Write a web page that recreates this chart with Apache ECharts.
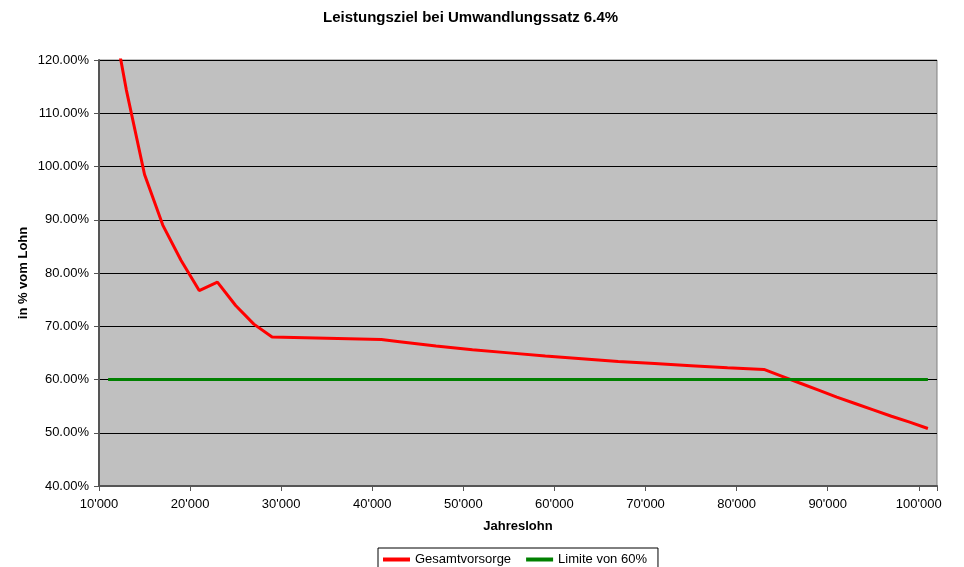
<!DOCTYPE html>
<html>
<head>
<meta charset="utf-8">
<script src="https://cdn.jsdelivr.net/npm/echarts@6/dist/echarts.min.js"></script>
<style>
	html,body{margin:0;padding:0;background:#fff;}
	#chart{width:964px;height:567px;}
</style>
</head>
<body>
<div id="chart"></div>
<script>
	// Jahreslohn (CHF) und Leistungsziel in % vom Lohn
	var lohn = [11000, 13000, 15000, 17000, 19000, 21000, 23000, 25000, 27000, 29000,
		41000, 43000, 47000, 51000, 55000, 59000, 63000, 67000, 71000, 75000, 79000, 83000,
		85000, 87000, 89000, 91000, 93000, 95000, 97000, 99000, 101000];
	var gesamt = [133, 114.4, 98.5, 89.0, 82.4, 76.7, 78.3, 73.9, 70.4, 68.0,
		67.5, 67.1, 66.3, 65.6, 65.0, 64.4, 63.9, 63.4, 63.0, 62.6, 62.2, 61.9,
		60.6, 59.3, 58.0, 56.7, 55.5, 54.3, 53.1, 52.0, 50.8];
	var limiteLohn = [11000, 101000];
	var limite = [60, 60];

	var font = 'Liberation Sans, Arial, sans-serif';

	function pairs(xs, ys){
		var out = [];
		for(var i = 0; i < xs.length; i++) out.push([xs[i], ys[i]]);
		return out;
	}

	function fmtLohn(v){
		if(v % 10000 !== 0) return '';
		return String(v).replace(/\B(?=(\d{3})+(?!\d))/g, "'");
	}

	var chart = echarts.init(document.getElementById('chart'));

	chart.setOption({
		animation: false,
		backgroundColor: '#fff',
		textStyle: {fontFamily: font},
		title: {
			text: 'Leistungsziel bei Umwandlungssatz 6.4%',
			left: 318,
			top: 5,
			textStyle: {fontSize: 15, fontWeight: 'bold', color: '#000', fontFamily: font}
		},
		legend: {
			left: 378,
			top: 548,
			padding: [5, 11, 10, 5],
			borderColor: '#000',
			borderWidth: 1,
			itemWidth: 27,
			itemHeight: 4,
			itemGap: 15,
			icon: 'rect',
			textStyle: {fontSize: 13, color: '#000', fontFamily: font},
			data: ['Gesamtvorsorge', 'Limite von 60%']
		},
		grid: {
			left: 99,
			right: 27,
			top: 60,
			bottom: 81,
			show: true,
			backgroundColor: '#c0c0c0',
			borderColor: '#808080',
			borderWidth: 1
		},
		xAxis: {
			type: 'value',
			min: 10000,
			max: 102000,
			interval: 10000,
			name: 'Jahreslohn',
			nameLocation: 'middle',
			nameGap: 34,
			nameTextStyle: {fontSize: 13, fontWeight: 'bold', color: '#000'},
			axisLine: {lineStyle: {color: '#555', width: 2}},
			axisTick: {show: true, length: 5, lineStyle: {color: '#555'}},
			axisLabel: {fontSize: 13, color: '#000', margin: 12, formatter: fmtLohn},
			splitLine: {show: false}
		},
		yAxis: {
			type: 'value',
			min: 40,
			max: 120,
			interval: 10,
			name: 'in % vom Lohn',
			nameLocation: 'middle',
			nameGap: 69,
			nameMoveOverlap: false,
			nameTextStyle: {fontSize: 13, fontWeight: 'bold', color: '#000'},
			axisLine: {show: true, lineStyle: {color: '#555', width: 2}},
			axisTick: {show: true, length: 5, lineStyle: {color: '#555'}},
			axisLabel: {fontSize: 13, color: '#000', margin: 10, formatter: function(v){ return v.toFixed(2) + '%'; }},
			splitLine: {show: true, lineStyle: {color: '#000', width: 1}}
		},
		series: [
			{
				name: 'Gesamtvorsorge',
				type: 'line',
				data: pairs(lohn, gesamt),
				showSymbol: false,
				clip: true,
				itemStyle: {color: '#ff0000'},
				lineStyle: {color: '#ff0000', width: 3}
			},
			{
				name: 'Limite von 60%',
				type: 'line',
				data: pairs(limiteLohn, limite),
				showSymbol: false,
				itemStyle: {color: '#008000'},
				lineStyle: {color: '#008000', width: 3}
			}
		]
	});
</script>
</body>
</html>
